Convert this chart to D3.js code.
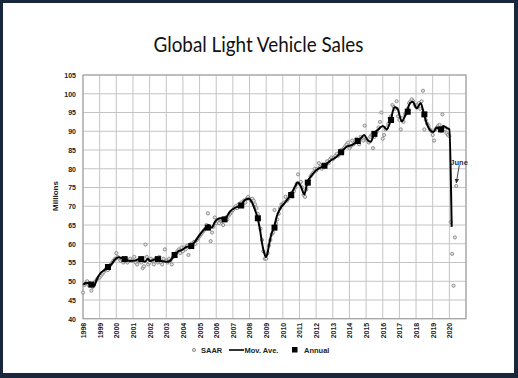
<!DOCTYPE html>
<html><head><meta charset="utf-8">
<script src="https://cdn.jsdelivr.net/npm/d3@7"></script>
<style>
html,body{margin:0;padding:0;background:#18273b;}
svg{display:block;}
</style></head><body>
<svg id="c" width="518" height="378"></svg>
<script>
// ---------------- data ----------------
const saarYears = [1998,1999,2000,2001,2002,2003,2004,2005,2006,2007,2008,2009,2010,2011,2012,2013,2014,2015,2016,2017,2018,2019,2020];
const saarByYear = [
  [47.0,49.0,49.5,50.0,49.0,49.5,47.5,48.5,49.0,50.0,50.5,51.0],
  [51.0,51.5,52.0,52.5,53.0,53.5,53.0,54.0,54.5,55.0,55.5,56.0],
  [57.5,56.5,56.0,55.5,56.0,55.0,55.5,56.0,55.0,55.5,56.0,55.5],
  [55.5,56.5,55.0,54.5,55.5,56.0,55.0,53.5,54.0,59.8,56.5,54.5],
  [55.0,56.0,55.5,54.5,56.0,55.5,55.0,56.5,55.0,54.5,56.0,58.5],
  [55.5,55.0,56.0,55.5,54.5,56.5,57.0,57.5,58.0,58.5,57.5,59.0],
  [58.0,59.0,58.5,59.5,57.0,59.0,60.0,59.5,60.5,60.0,61.0,61.5],
  [62.0,62.5,63.0,63.5,64.0,65.0,68.1,64.5,60.7,63.0,64.5,67.0],
  [65.5,66.0,65.5,66.5,66.0,65.0,66.5,67.0,66.5,67.5,68.0,68.5],
  [69.0,69.5,70.0,69.5,70.5,70.0,71.0,70.5,71.5,71.0,72.0,72.5],
  [72.0,71.5,72.0,71.5,70.5,69.5,68.0,66.5,64.0,61.0,58.0,56.0],
  [56.0,57.5,59.5,61.0,62.5,63.0,69.0,65.5,66.5,68.0,69.5,70.5],
  [70.5,71.0,72.5,71.5,72.0,73.0,73.5,72.5,74.0,75.0,76.0,78.5],
  [76.0,76.5,75.0,73.0,72.5,74.5,76.0,77.0,78.0,78.5,79.0,80.0],
  [79.5,80.0,81.5,80.5,80.0,81.0,80.5,81.0,82.0,81.5,82.5,83.0],
  [82.5,83.0,83.5,84.0,83.5,84.5,85.0,84.5,85.5,86.0,86.5,87.0],
  [85.5,86.0,87.5,86.5,87.0,88.0,87.5,86.5,88.5,88.0,87.5,91.5],
  [88.0,87.5,87.0,88.5,89.0,85.5,88.5,89.5,90.0,91.0,92.5,95.0],
  [88.0,89.0,90.5,91.0,92.0,93.5,94.0,97.0,96.5,96.0,98.0,94.0],
  [93.0,90.5,93.5,92.5,94.5,95.0,96.0,97.5,98.0,98.5,98.0,97.0],
  [96.5,97.0,97.5,96.0,98.0,100.8,90.5,93.0,92.0,91.5,90.5,90.0],
  [89.0,87.5,90.5,91.0,91.5,91.7,90.0,94.5,90.5,90.5,89.5,89.0],
  [88.7,65.8,57.3,48.8,61.7,75.4]
];
const annualYears  = [1998,1999,2000,2001,2002,2003,2004,2005,2006,2007,2008,2009,2010,2011,2012,2013,2014,2015,2016,2017,2018,2019];
const annualValues = [49.1,53.8,55.9,55.9,55.9,57.0,59.4,64.3,66.5,70.2,66.8,64.3,73.0,76.3,80.8,84.4,87.4,89.3,93.0,95.2,94.5,90.5];
const maDates  = [1998.02,1998.22,1998.52,1998.66,1998.82,1999.02,1999.32,1999.52,1999.72,1999.92,2000.12,2000.42,2000.82,2001.12,2001.42,2001.72,2001.9,2002.02,2002.46,2002.72,2003.02,2003.22,2003.49,2003.73,2003.93,2004.23,2004.47,2004.73,2005.03,2005.33,2005.53,2005.73,2005.93,2006.23,2006.53,2006.83,2007.13,2007.47,2007.73,2007.97,2008.17,2008.33,2008.49,2008.63,2008.77,2008.89,2008.99,2009.08,2009.17,2009.33,2009.47,2009.63,2009.83,2010.13,2010.47,2010.73,2010.89,2011.09,2011.29,2011.47,2011.73,2012.03,2012.49,2012.93,2013.23,2013.49,2013.84,2014.14,2014.5,2014.74,2014.88,2015.08,2015.28,2015.48,2015.74,2016.0,2016.24,2016.48,2016.7,2016.88,2017.14,2017.44,2017.64,2017.8,2018.04,2018.28,2018.48,2018.64,2018.84,2019.04,2019.24,2019.44,2019.64,2019.88,2020.0,2020.14];
const maValues = [49.1,49.6,49.1,48.7,50.4,52.0,53.1,53.8,54.6,55.8,56.4,56.0,55.4,55.5,56.0,55.2,56.0,55.4,56.0,55.4,55.2,55.4,57.0,58.0,58.3,59.2,59.4,60.6,62.5,64.1,65.0,64.3,65.9,66.8,66.8,68.6,69.6,70.2,71.7,72.0,70.8,69.0,66.8,63.7,59.7,57.4,56.5,57.5,59.7,62.8,64.3,67.2,69.3,71.0,73.0,75.2,76.4,75.2,73.2,76.3,78.2,79.7,80.8,82.4,83.2,84.4,85.9,86.3,87.4,88.4,89.0,87.7,87.2,89.3,90.5,91.4,90.5,93.0,96.4,96.1,92.6,95.2,97.5,97.9,96.1,97.5,94.5,92.1,90.3,89.8,91.0,90.5,91.4,90.8,90.5,64.5];
const yTicks = [40,45,50,55,60,65,70,75,80,85,90,95,100,105];
const xTickYears = [1998,1999,2000,2001,2002,2003,2004,2005,2006,2007,2008,2009,2010,2011,2012,2013,2014,2015,2016,2017,2018,2019,2020];
const titleText = "Global Light Vehicle Sales";
const yTitle = "Millions";
const legendLabels = ["SAAR","Mov. Ave.","Annual"];
const noteText = "June";
const noteIndex = [2020,5];

// ---------------- drawing ----------------
const svg = d3.select("#c");
svg.append("rect").attr("x",3).attr("y",3).attr("width",511).attr("height",370).attr("fill","#ffffff");

const x = d3.scaleLinear().domain([1998,2021]).range([83,466]);
const y = d3.scaleLinear().domain([40,105]).range([318.75,75]);

svg.append("text").attr("x",258.5).attr("y",51.5).attr("text-anchor","middle")
  .attr("font-family","Lato, 'Open Sans', sans-serif").attr("font-size",21)
  .attr("textLength",210).attr("lengthAdjust","spacingAndGlyphs")
  .attr("fill","#111").text(titleText);

// grid
const g = svg.append("g");
g.selectAll(".vg").data(d3.range(1998,2022)).join("line")
  .attr("x1",d=>x(d)).attr("x2",d=>x(d)).attr("y1",y(40)).attr("y2",y(105))
  .attr("stroke","#c4c4c4").attr("stroke-width",1);
g.selectAll(".hg").data(yTicks).join("line")
  .attr("x1",x(1998)).attr("x2",x(2021)).attr("y1",d=>y(d)).attr("y2",d=>y(d))
  .attr("stroke","#c4c4c4").attr("stroke-width",1);
g.append("rect").attr("x",x(1998)).attr("y",y(105)).attr("width",x(2021)-x(1998)).attr("height",y(40)-y(105))
  .attr("fill","none").attr("stroke","#9a9a9a").attr("stroke-width",1);

// axes
const ya = svg.append("g").attr("transform",`translate(${x(1998)-7},0)`)
  .call(d3.axisLeft(y).tickValues(yTicks).tickSize(0).tickPadding(0));
ya.select(".domain").remove();
ya.selectAll("text").attr("font-family","'Liberation Sans', Arial, sans-serif").attr("font-weight","bold").attr("font-size",7).attr("fill","#222");

const xa = svg.append("g").attr("transform",`translate(0,${y(40)})`)
  .call(d3.axisBottom(x).tickValues(xTickYears).tickSize(0).tickFormat(d3.format("d")));
xa.select(".domain").remove();
xa.selectAll("text").attr("font-family","'Liberation Sans', Arial, sans-serif").attr("font-weight","bold").attr("font-size",7).attr("fill","#222")
  .attr("text-anchor","end").attr("transform","rotate(-90)").attr("x",-4).attr("y",0).attr("dy","0.35em");

svg.append("text").attr("transform",`translate(58,196) rotate(-90)`).attr("text-anchor","middle")
  .attr("font-family","'Liberation Sans', Arial, sans-serif").attr("font-weight","bold").attr("font-size",8).attr("fill","#222").text(yTitle);

// SAAR points
const pts = [];
saarYears.forEach((yr,i)=>saarByYear[i].forEach((v,m)=>pts.push({t:yr+m/12,v})));
svg.append("g").selectAll("circle").data(pts).join("circle")
  .attr("cx",d=>x(d.t)).attr("cy",d=>y(d.v)).attr("r",1.6)
  .attr("fill","#e4e4e4").attr("stroke","#7a7a7a").attr("stroke-width",0.8);

// moving average
const ma = maDates.map((t,i)=>({t,v:maValues[i]}));
svg.append("path").datum(ma)
  .attr("d",d3.line().x(d=>x(d.t)).y(d=>y(d.v)).curve(d3.curveMonotoneX))
  .attr("fill","none").attr("stroke","#000").attr("stroke-width",2);

// annual
svg.append("g").selectAll("rect").data(annualYears).join("rect")
  .attr("x",(d)=>x(d+0.5)-3).attr("y",(d,i)=>y(annualValues[i])-3).attr("width",6).attr("height",6).attr("fill","#000");

// annotation
const np = {t:noteIndex[0]+noteIndex[1]/12, v:saarByYear[saarYears.indexOf(noteIndex[0])][noteIndex[1]]};
svg.append("defs").append("marker").attr("id","ah").attr("viewBox","0 0 10 10").attr("refX",9).attr("refY",5)
  .attr("markerWidth",5).attr("markerHeight",5).attr("orient","auto")
  .append("path").attr("d","M0,0 L10,5 L0,10 z").attr("fill","#333");
svg.append("text").attr("x",x(noteIndex[0])+1).attr("y",y(np.v)-21.5)
  .attr("font-family","'Liberation Sans', Arial, sans-serif").attr("font-weight","bold").attr("font-size",7.5).attr("fill","#1f2f4f").text(noteText);
svg.append("line").attr("x1",x(np.t)+3).attr("y1",y(np.v)-21).attr("x2",x(np.t)).attr("y2",y(np.v)-3)
  .attr("stroke","#333").attr("stroke-width",0.9).attr("marker-end","url(#ah)");

// legend
const lg = svg.append("g").attr("font-family","'Liberation Sans', Arial, sans-serif").attr("font-weight","bold").attr("font-size",7.5).attr("fill","#222");
lg.append("circle").attr("cx",194).attr("cy",350).attr("r",1.6).attr("fill","#e4e4e4").attr("stroke","#7a7a7a").attr("stroke-width",0.8);
lg.append("text").attr("x",201).attr("y",352.8).text(legendLabels[0]);
lg.append("line").attr("x1",229).attr("x2",244).attr("y1",350).attr("y2",350).attr("stroke","#000").attr("stroke-width",1.6);
lg.append("text").attr("x",244.5).attr("y",352.8).text(legendLabels[1]);
lg.append("rect").attr("x",292).attr("y",347).attr("width",5.5).attr("height",5.5).attr("fill","#000");
lg.append("text").attr("x",304).attr("y",352.8).text(legendLabels[2]);
</script>
</body></html>
